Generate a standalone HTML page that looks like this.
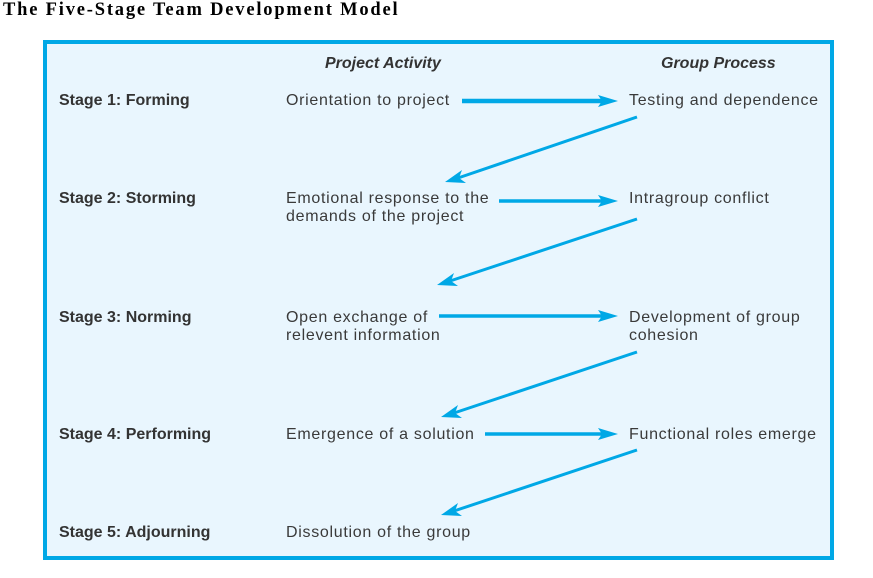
<!DOCTYPE html>
<html><head><meta charset="utf-8"><style>
body{margin:0;width:873px;height:578px;background:#fff;position:relative;overflow:hidden;font-family:"Liberation Sans",sans-serif;}
.t{position:absolute;white-space:nowrap;font-size:16px;color:#3a3a3a;line-height:18px;letter-spacing:0.7px}
.b{font-weight:bold;color:#333;letter-spacing:0}
</style></head><body>
<div style="position:absolute;left:3px;top:0px;font-family:'Liberation Serif',serif;font-weight:bold;font-size:18.5px;letter-spacing:1.8px;color:#000">The Five-Stage Team Development Model</div>
<div style="position:absolute;left:43px;top:40px;width:783px;height:512px;border:4px solid #00a8e6;background:#e9f6fe"></div>
<div class="t b" style="left:325px;top:55px;font-style:italic">Project Activity</div>
<div class="t b" style="left:661px;top:55px;font-style:italic">Group Process</div>

<div class="t b" style="left:59px;top:92px">Stage 1: Forming</div>
<div class="t" style="left:286px;top:92px">Orientation to project</div>
<div class="t" style="left:629px;top:92px">Testing and dependence</div>

<div class="t b" style="left:59px;top:190px">Stage 2: Storming</div>
<div class="t" style="left:286px;top:190px">Emotional response to the<br>demands of the project</div>
<div class="t" style="left:629px;top:190px">Intragroup conflict</div>

<div class="t b" style="left:59px;top:309px">Stage 3: Norming</div>
<div class="t" style="left:286px;top:309px">Open exchange of<br>relevent information</div>
<div class="t" style="left:629px;top:309px">Development of group<br>cohesion</div>

<div class="t b" style="left:59px;top:426px">Stage 4: Performing</div>
<div class="t" style="left:286px;top:426px">Emergence of a solution</div>
<div class="t" style="left:629px;top:426px">Functional roles emerge</div>

<div class="t b" style="left:59px;top:524px">Stage 5: Adjourning</div>
<div class="t" style="left:286px;top:524px">Dissolution of the group</div>

<svg width="873" height="578" style="position:absolute;left:0;top:0">
<g stroke="#00a8e6" fill="#00a8e6">
<g><line x1="462" y1="101" x2="602" y2="101" stroke-width="4.5"/><polygon points="618,101 598,95 602,101 598,107" stroke="none"/></g>
<g><line x1="499" y1="201" x2="602" y2="201" stroke-width="3.5"/><polygon points="618,201 598,195 602,201 598,207" stroke="none"/></g>
<g><line x1="439" y1="316" x2="602" y2="316" stroke-width="3.5"/><polygon points="618,316 598,310 602,316 598,322" stroke="none"/></g>
<g><line x1="485" y1="434" x2="602" y2="434" stroke-width="3.5"/><polygon points="618,434 598,428 602,434 598,440" stroke="none"/></g>
<g><line x1="637" y1="117" x2="458" y2="178" stroke-width="3"/><polygon points="445,182 462,170 459,178 466,183" stroke="none"/></g>
<g><line x1="637" y1="219" x2="450" y2="281" stroke-width="3"/><polygon points="437,285 454,273 451,281 458,286" stroke="none"/></g>
<g><line x1="637" y1="352" x2="454" y2="413" stroke-width="3"/><polygon points="441,417 458,405 455,413 462,418" stroke="none"/></g>
<g><line x1="637" y1="450" x2="454" y2="511" stroke-width="3"/><polygon points="441,515 458,503 455,511 462,516" stroke="none"/></g>
</g></svg>
</body></html>
